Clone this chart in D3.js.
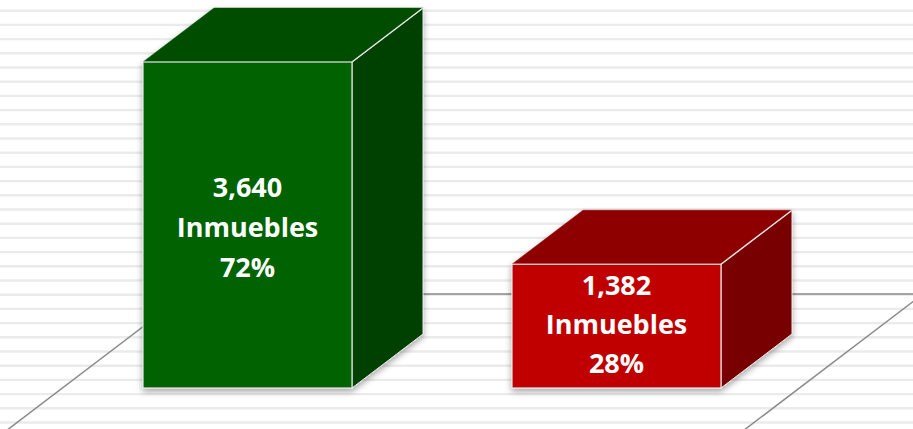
<!DOCTYPE html>
<html>
<head>
<meta charset="utf-8">
<script src="https://cdn.jsdelivr.net/npm/d3@7"></script>
<style>
  html, body { margin: 0; padding: 0; background: #fff; }
  #chart { width: 913px; height: 429px; }
</style>
</head>
<body>
<div id="chart"></div>
<script>
// datos de la grafica
const categorias = ['Grupo A', 'Grupo B'];
const inmuebles = [3640, 1382];
const porcentajes = ['72%', '28%'];
const etiqueta = 'Inmuebles';

const colorFrente = ['#006200', '#c00000'];
const colorTapa = ['#004e00', '#8e0000'];
const colorLado = ['#003f00', '#780000'];

const width = 913, height = 429;
const base = 388;          // borde inferior de la cara frontal
const dx = 71, dy = 54;    // profundidad de la perspectiva

const svg = d3.select('#chart').append('svg')
    .attr('width', width)
    .attr('height', height);

const defs = svg.append('defs');
defs.append('filter')
    .attr('id', 'sombra')
    .attr('x', '-20%').attr('y', '-20%')
    .attr('width', '140%').attr('height', '140%')
    .append('feDropShadow')
    .attr('dx', 0).attr('dy', 3)
    .attr('stdDeviation', 3)
    .attr('flood-color', '#000')
    .attr('flood-opacity', 0.35);

// fondo rayado
const rayas = d3.range(10.7, height, 14.2);
svg.append('g').selectAll('line')
    .data(rayas)
    .enter().append('line')
    .attr('x1', 0).attr('x2', width)
    .attr('y1', d => d).attr('y2', d => d)
    .attr('stroke', '#ebebeb')
    .attr('stroke-width', 2.4);

// escalas
const xScale = d3.scaleBand()
    .domain(categorias)
    .range([63, 801])
    .paddingInner(0.4336)
    .paddingOuter(0.2168);

const yScale = d3.scaleLinear()
    .domain([0, d3.max(inmuebles)])
    .range([base, 62]);

// piso
const piso = svg.append('g')
    .attr('stroke', '#8a8a8a')
    .attr('stroke-width', 1.5)
    .attr('fill', 'none');
const fondoY = 294;
const pendiente = dx / dy;
piso.append('line')
    .attr('x1', 186).attr('y1', fondoY)
    .attr('x2', width).attr('y2', fondoY);
piso.append('line')
    .attr('x1', 186).attr('y1', fondoY)
    .attr('x2', 186 - (height + 2 - fondoY) * pendiente).attr('y2', height + 2);
piso.append('line')
    .attr('x1', 923).attr('y1', fondoY)
    .attr('x2', 923 - (height + 2 - fondoY) * pendiente).attr('y2', height + 2);

// barras 3D
const datos = categorias.map((c, i) => ({
    cat: c, valor: inmuebles[i], pct: porcentajes[i], i: i
}));

const barras = svg.selectAll('.barra')
    .data(datos)
    .enter().append('g')
    .attr('class', 'barra')
    .attr('filter', 'url(#sombra)');

const borde = '#e6e6e6';

barras.each(function (d) {
    const g = d3.select(this);
    const x0 = xScale(d.cat);
    const x1 = x0 + xScale.bandwidth();
    const yt = yScale(d.valor);

    // cara lateral
    g.append('path')
        .attr('d', `M${x1},${yt}L${x1 + dx},${yt - dy}L${x1 + dx},${base - dy}L${x1},${base}Z`)
        .attr('fill', colorLado[d.i])
        .attr('stroke', borde).attr('stroke-width', 1);
    // tapa
    g.append('path')
        .attr('d', `M${x0},${yt}L${x0 + dx},${yt - dy}L${x1 + dx},${yt - dy}L${x1},${yt}Z`)
        .attr('fill', colorTapa[d.i])
        .attr('stroke', colorTapa[d.i]).attr('stroke-width', 0.5);
    // cara frontal
    g.append('rect')
        .attr('x', x0).attr('y', yt)
        .attr('width', x1 - x0)
        .attr('height', base - yt)
        .attr('fill', colorFrente[d.i])
        .attr('stroke', borde).attr('stroke-width', 1.2);
    // arista superior derecha
    g.append('line')
        .attr('x1', x1).attr('y1', yt)
        .attr('x2', x1 + dx).attr('y2', yt - dy)
        .attr('stroke', borde).attr('stroke-width', 1.5);
});

// textos
const centrosY = [[188, 228, 268], [286, 325, 364]];
const textos = svg.selectAll('.texto')
    .data(datos)
    .enter().append('text')
    .attr('class', 'texto')
    .attr('text-anchor', 'middle')
    .attr('font-family', '"Open Sans", sans-serif')
    .attr('font-weight', 'bold')
    .attr('font-size', 27)
    .attr('fill', '#fff');

textos.each(function (d) {
    const t = d3.select(this);
    const cx = xScale(d.cat) + xScale.bandwidth() / 2;
    const lineas = [d3.format(',')(d.valor), etiqueta, d.pct];
    lineas.forEach((l, k) => {
        t.append('tspan')
            .attr('x', cx)
            .attr('y', centrosY[d.i][k])
            .attr('dy', '0.35em')
            .text(l);
    });
});
</script>
</body>
</html>
